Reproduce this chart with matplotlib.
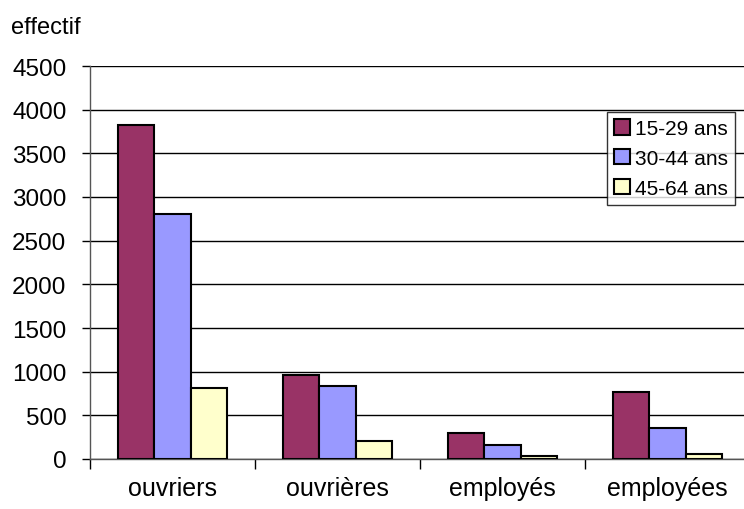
import matplotlib
matplotlib.use('Agg')
import matplotlib.pyplot as plt
import numpy as np

plt.rcParams['font.family'] = ['Liberation Sans', 'DejaVu Sans']

categories = ['ouvriers', 'ouvrières', 'employés', 'employées']
series = ['15-29 ans', '30-44 ans', '45-64 ans']
v_15_29 = [3820, 960, 300, 765]
v_30_44 = [2800, 840, 165, 360]
v_45_64 = [810, 210, 30, 60]
colors = ['#993366', '#9999FF', '#FFFFCC']

fig = plt.figure(figsize=(7.44, 5.10), dpi=100)
ax = fig.add_axes([90 / 744, 50 / 510, 660 / 744, 393 / 510])

x = np.arange(len(categories))
w = 0.222
for i, (vals, lab) in enumerate(zip([v_15_29, v_30_44, v_45_64], series)):
    ax.bar(x + (i - 1) * w, vals, width=w, color=colors[i], edgecolor='black',
           linewidth=1.5, label=lab, zorder=3)

ax.set_xlim(-0.5, 3.5)
ax.set_ylim(0, 4500)
ax.set_yticks(range(0, 4501, 500))
ax.tick_params(axis='y', labelsize=17.5, length=6, direction='out', width=1, pad=11)
ax.set_xticks(x)
ax.set_xticklabels(categories, fontsize=18)
ax.tick_params(axis='x', length=0, pad=12)
ax.set_xticks(np.arange(-0.5, 4, 1), minor=True)
ax.tick_params(axis='x', which='minor', length=7, direction='out', width=1)

ax.yaxis.grid(True, color='black', linewidth=1)
ax.set_axisbelow(True)
for s in ['top', 'right']:
    ax.spines[s].set_visible(False)
ax.spines['left'].set_linewidth(1)
ax.spines['bottom'].set_linewidth(1)
ax.spines['left'].set_color('#555555')
ax.spines['bottom'].set_color('#555555')

fig.text(11 / 744, 1 - 28 / 510, 'effectif', fontsize=17, va='center', ha='left')

leg = ax.legend(loc='upper left', bbox_to_anchor=((607 - 90) / 660, (460 - 113) / 393),
                fontsize=15, frameon=True, fancybox=False, edgecolor='black',
                handlelength=0.75, handleheight=0.75, handletextpad=0.25,
                borderpad=0.35, labelspacing=0.52, borderaxespad=0)
leg.get_frame().set_linewidth(1)
leg.set_zorder(5)

fig.savefig('out.png', dpi=100)
